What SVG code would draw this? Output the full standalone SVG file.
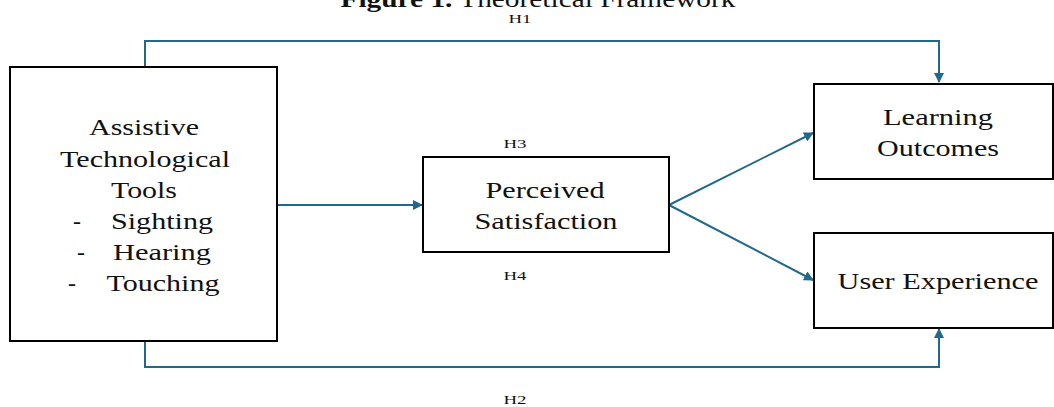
<svg xmlns="http://www.w3.org/2000/svg" width="1054" height="407" viewBox="0 0 1054 407">
<style>
.box{fill:#fff;stroke:#000;stroke-width:2}
.t{font-family:"Liberation Serif","Times New Roman",serif;font-size:24px;fill:#111;text-anchor:middle}
.h{font-family:"Liberation Serif","Times New Roman",serif;font-size:13px;fill:#111;text-anchor:middle}
.c{fill:none;stroke:#20698c;stroke-width:2}
</style>
<defs>
<marker id="ah" viewBox="0 0 10 10" refX="9" refY="5" markerWidth="5" markerHeight="5" orient="auto" markerUnits="strokeWidth">
<path d="M0,0 L10,5 L0,10 z" fill="#20698c"/>
</marker>
</defs>
<rect width="1054" height="407" fill="#fff"/>
<text x="538" y="7" font-family="Liberation Serif, Times New Roman, serif" font-size="24" text-anchor="middle" fill="#111" textLength="395" lengthAdjust="spacingAndGlyphs"><tspan font-weight="bold">Figure 1.</tspan> Theoretical Framework</text>
<g id="connectors">
<path class="c" d="M145,67 V41 H939 V82" marker-end="url(#ah)"/>
<path class="c" d="M145,341 V367 H939 V329" marker-end="url(#ah)"/>
<path class="c" d="M277,205 H422" marker-end="url(#ah)"/>
<path class="c" d="M669,205 L813,133" marker-end="url(#ah)"/>
<path class="c" d="M669,205 L813,280" marker-end="url(#ah)"/>
</g>
<g id="labels">
<text class="h" x="520" y="23" textLength="23" lengthAdjust="spacingAndGlyphs">H1</text>
<text class="h" x="515" y="148" textLength="23" lengthAdjust="spacingAndGlyphs">H3</text>
<text class="h" x="515" y="280" textLength="23" lengthAdjust="spacingAndGlyphs">H4</text>
<text class="h" x="515" y="404" textLength="23" lengthAdjust="spacingAndGlyphs">H2</text>
</g>
<g id="assistive">
<rect class="box" x="10" y="67" width="267" height="274"/>
<text class="t" x="144" y="135" textLength="110" lengthAdjust="spacingAndGlyphs">Assistive</text>
<text class="t" x="145" y="167" textLength="170" lengthAdjust="spacingAndGlyphs">Technological</text>
<text class="t" x="144" y="198" textLength="66" lengthAdjust="spacingAndGlyphs">Tools</text>
<text class="t" x="77" y="229">-</text><text class="t" x="162" y="229" textLength="102" lengthAdjust="spacingAndGlyphs">Sighting</text>
<text class="t" x="81" y="260">-</text><text class="t" x="162" y="260" textLength="98" lengthAdjust="spacingAndGlyphs">Hearing</text>
<text class="t" x="72" y="291">-</text><text class="t" x="163" y="291" textLength="113" lengthAdjust="spacingAndGlyphs">Touching</text>
</g>
<g id="perceived">
<rect class="box" x="423" y="157" width="246" height="95"/>
<text class="t" x="545" y="198" textLength="119" lengthAdjust="spacingAndGlyphs">Perceived</text>
<text class="t" x="546" y="229" textLength="143" lengthAdjust="spacingAndGlyphs">Satisfaction</text>
</g>
<g id="learning">
<rect class="box" x="814" y="84" width="239" height="95"/>
<text class="t" x="938" y="125" textLength="110" lengthAdjust="spacingAndGlyphs">Learning</text>
<text class="t" x="938" y="156" textLength="122" lengthAdjust="spacingAndGlyphs">Outcomes</text>
</g>
<g id="user">
<rect class="box" x="814" y="233" width="239" height="95"/>
<text class="t" x="938" y="289" textLength="201" lengthAdjust="spacingAndGlyphs">User Experience</text>
</g>
</svg>
